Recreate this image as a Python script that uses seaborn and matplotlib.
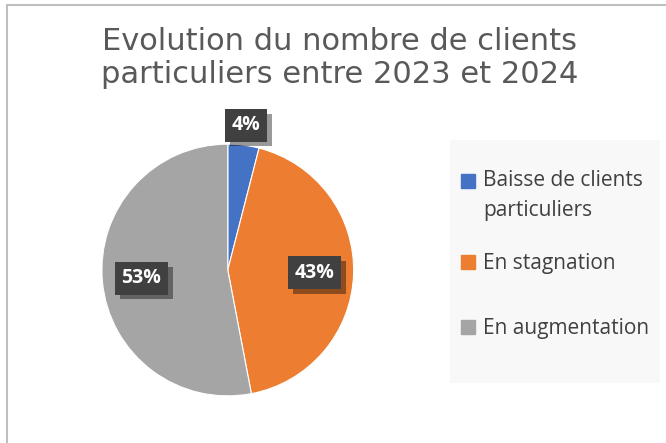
import numpy as np
import seaborn as sns
import matplotlib.pyplot as plt
import matplotlib.patheffects as pe
from matplotlib.lines import Line2D
from matplotlib.patches import Rectangle
from matplotlib.legend_handler import HandlerLine2D

# Data
categories = ['Baisse de clients\nparticuliers', 'En stagnation', 'En augmentation']
shares = [4, 43, 53]
colors = ['#4472c4', '#ed7d31', '#a5a5a5']
title = 'Evolution du nombre de clients\nparticuliers entre 2023 et 2024'

LEG_FS = 15
LINE_STEP = 21.6  # pt between lines of a wrapped legend label


class SquareHandler(HandlerLine2D):
    # keep the square next to the text line even with tall legend rows
    def create_artists(self, legend, orig_handle, xdescent, ydescent, width,
                       height, fontsize, trans):
        arts = super().create_artists(legend, orig_handle, xdescent, ydescent,
                                      width, height, fontsize, trans)
        for a in arts:
            a.set_ydata(np.full_like(a.get_xdata(), 0.35 * fontsize))
        return arts


sns.set_theme(style='white')
plt.rcParams['font.family'] = ['Open Sans', 'DejaVu Sans']

W, H = 666, 443
fig = plt.figure(figsize=(W / 100, H / 100), dpi=100)
fig.patch.set_facecolor('white')

# chart border (only top and left visible)
fig.patches.append(Rectangle((6.5 / W, -0.1), 1.2, 1.1 - 5.5 / H, transform=fig.transFigure,
                             facecolor='none', edgecolor='#bfbfbf', linewidth=1.5))
# legend background
fig.patches.append(Rectangle((450 / W, 1 - 383 / H), 210 / W, 243 / H, transform=fig.transFigure,
                             facecolor='#f8f8f8', edgecolor='none'))

ax = fig.add_axes([0.153, 0.106, 0.378, 0.569])
wedges, texts, autotexts = ax.pie(
    shares, colors=colors, startangle=90, counterclock=False,
    autopct='%1.0f%%', pctdistance=0.69,
    wedgeprops=dict(edgecolor='white', linewidth=0.8))
ax.set_aspect('equal')
ax.set_xlim(-1, 1)
ax.set_ylim(-1, 1)

for w, t in zip(wedges, autotexts):
    t.set_color('white')
    t.set_fontsize(14)
    t.set_fontweight('bold')
    t.set_bbox(dict(boxstyle='square,pad=0.33', facecolor='#404040', edgecolor='none'))
    t.get_bbox_patch().set_path_effects([
        pe.withSimplePatchShadow(offset=(3.5, -3.5), shadow_rgbFace='black', alpha=0.4),
        pe.Normal()])
    # small slice: put its label outside
    if w.theta2 - w.theta1 < 20:
        ang = np.deg2rad((w.theta1 + w.theta2) / 2)
        t.set_position((1.16 * np.cos(ang), 1.16 * np.sin(ang)))

fig.text(0.51, 0.869, title, ha='center', va='center', fontsize=22,
         color='#595959', family=['DejaVu Sans'], linespacing=1.16)

handles = [Line2D([], [], marker='s', linestyle='', markersize=10,
                  markerfacecolor=c, markeredgecolor=c) for c in colors]
leg = fig.legend(handles, categories, loc='upper left',
                 bbox_to_anchor=(460 / W, 1 - 169 / H),
                 frameon=False, fontsize=LEG_FS,
                 handler_map={Line2D: SquareHandler()},
                 handlelength=0.8, handleheight=3.87, handletextpad=0.3,
                 labelspacing=0.38, borderpad=0, borderaxespad=0)
for t in leg.get_texts():
    t.set_color('#404040')
    t.set_linespacing(1.58)
# square sits next to the first line of a wrapped label
for hnd, lab in zip(leg.legend_handles, categories):
    n = lab.count('\n')
    if n:
        hnd.set_ydata(hnd.get_ydata() + n * LINE_STEP / 2)

fig.savefig('out.png', dpi=100)
